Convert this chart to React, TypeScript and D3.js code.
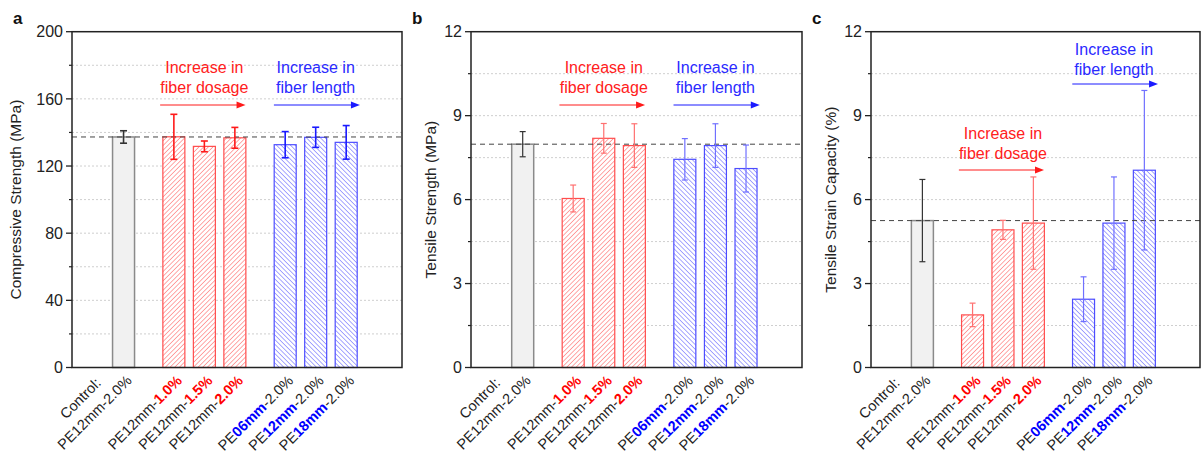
import React from "react";
import * as d3 from "d3";

const W = 1202;
const H = 454;
const TOP = 31.7;
const BOTTOM = 367.5;
const FONT = "'Liberation Sans', Arial, sans-serif";
const XFS = 14.5; // x label font size

// categories: [prefix, highlighted part, suffix, group]
const labelPre = ["PE12mm-2.0%", "PE12mm-", "PE12mm-", "PE12mm-", "PE", "PE", "PE"];
const labelHi = ["", "1.0%", "1.5%", "2.0%", "06mm", "12mm", "18mm"];
const labelPost = ["", "", "", "", "-2.0%", "-2.0%", "-2.0%"];
const groups = ["control", "red", "red", "red", "blue", "blue", "blue"];
const slots = [1, 2.65, 3.65, 4.65, 6.3, 7.3, 8.3];

const compMean = [137.3, 137.4, 131.7, 136.8, 132.7, 137.1, 134.1];
const compErr = [3.7, 13.4, 3.2, 6.2, 7.8, 6.0, 10.0];
const tensMean = [7.98, 6.04, 8.19, 7.93, 7.44, 7.93, 7.11];
const tensErr = [0.45, 0.48, 0.53, 0.78, 0.74, 0.78, 0.84];
const strainMean = [5.25, 1.88, 4.92, 5.16, 2.44, 5.16, 7.05];
const strainErr = [1.47, 0.42, 0.34, 1.65, 0.8, 1.65, 2.85];

const compTicks = [0, 40, 80, 120, 160, 200];
const tensTicks = [0, 3, 6, 9, 12];

const PANELS = [
  {
    letter: "a", left: 72, right: 402, max: 200, ticks: compTicks, minor: 20,
    mean: compMean, err: compErr, title: "Compressive Strength (MPa)", titleOff: 56,
    strongErr: true, redText: [73, 93], redArrow: 105, blueText: [73, 93], blueArrow: 105,
  },
  {
    letter: "b", left: 471, right: 802, max: 12, ticks: tensTicks, minor: 1.5,
    mean: tensMean, err: tensErr, title: "Tensile Strength (MPa)", titleOff: 40,
    strongErr: false, redText: [73, 93], redArrow: 105, blueText: [73, 93], blueArrow: 105,
  },
  {
    letter: "c", left: 871, right: 1200, max: 12, ticks: tensTicks, minor: 1.5,
    mean: strainMean, err: strainErr, title: "Tensile Strain Capacity (%)", titleOff: 40,
    strongErr: false, redText: [139, 159], redArrow: 170, blueText: [55, 75], blueArrow: 84,
  },
];

const measure = (s: string, size: number, weight = "normal") => {
  const ctx = document.createElement("canvas").getContext("2d");
  if (!ctx) return s.length * size * 0.55;
  ctx.font = `${weight} ${size}px ${FONT}`;
  return ctx.measureText(s).width;
};

const Arrow = ({ x1, x2, y, color }: any) => (
  <g>
    <line x1={x1} x2={x2 - 7} y1={y} y2={y} stroke={color} strokeWidth={1} />
    <path d={`M${x2},${y} L${x2 - 9},${y - 3.5} L${x2 - 9},${y + 3.5} Z`} fill={color} />
  </g>
);

const Panel = ({ p }: any) => {
  const x = d3.scaleLinear().domain([-0.69, 10.13]).range([p.left, p.right]);
  const y = d3.scaleLinear().domain([0, p.max]).range([BOTTOM, TOP]);
  const barW = 22;
  const grid = d3.range(p.minor, p.max, p.minor);
  const minorTicks = d3.range(p.minor, p.max, p.minor * 2);
  const ctrl = p.mean[0];
  const w2 = measure(labelPre[0], XFS);

  const col = (g: string) => (g === "red" ? "#ff0000" : g === "blue" ? "#0000ff" : "#333");
  const errCol = (g: string) => {
    if (g === "control") return "#333";
    if (p.strongErr) return g === "red" ? "#ff1a1a" : "#1a1aff";
    return g === "red" ? "#ff7070" : "#7070ff";
  };

  return (
    <g fontFamily={FONT}>
      <text x={p.left - 59} y={24} fontSize={17} fontWeight="bold" fill="#111">{p.letter}</text>
      {grid.map((v) => (
        <line key={v} x1={p.left} x2={p.right} y1={y(v)} y2={y(v)} stroke="#cfcfcf" strokeDasharray="2,2" />
      ))}
      {/* bars */}
      {p.mean.map((m: number, i: number) => {
        const g = groups[i];
        const fill = g === "red" ? "url(#hatchRed)" : g === "blue" ? "url(#hatchBlue)" : "#f1f1f1";
        const stroke = g === "red" ? "#ff4d4d" : g === "blue" ? "#4d4dff" : "#8a8a8a";
        return (
          <rect key={i} x={x(slots[i]) - barW / 2} y={y(m)} width={barW} height={BOTTOM - y(m)}
            fill={fill} stroke={stroke} strokeWidth={g === "control" ? 1.5 : 1.2} />
        );
      })}
      {/* dashed reference */}
      <line x1={p.left} x2={p.right} y1={y(ctrl)} y2={y(ctrl)} stroke="#444" strokeDasharray="5,4" strokeWidth={1} />
      {/* error bars */}
      {p.mean.map((m: number, i: number) => {
        const cx = x(slots[i]);
        const c = errCol(groups[i]);
        const sw = p.strongErr ? 1.6 : 1.2;
        const cap = p.strongErr ? 3.5 : 3;
        const t = y(m + p.err[i]);
        const b = y(m - p.err[i]);
        return (
          <g key={i} stroke={c} strokeWidth={sw}>
            <line x1={cx} x2={cx} y1={t} y2={b} />
            <line x1={cx - cap} x2={cx + cap} y1={t} y2={t} />
            <line x1={cx - cap} x2={cx + cap} y1={b} y2={b} />
          </g>
        );
      })}
      {/* frame */}
      <rect x={p.left} y={TOP} width={p.right - p.left} height={BOTTOM - TOP} fill="none" stroke="#222" strokeWidth={1.5} />
      {/* y ticks */}
      {p.ticks.map((v: number) => (
        <g key={v}>
          <line x1={p.left - 6} x2={p.left} y1={y(v)} y2={y(v)} stroke="#222" strokeWidth={1.3} />
          <text x={p.left - 9} y={y(v)} dy="0.36em" textAnchor="end" fontSize={16} fill="#222">{v}</text>
        </g>
      ))}
      {minorTicks.map((v: number) => (
        <line key={v} x1={p.left - 3} x2={p.left} y1={y(v)} y2={y(v)} stroke="#222" strokeWidth={1.2} />
      ))}
      <text transform={`translate(${p.left - p.titleOff},${(TOP + BOTTOM) / 2}) rotate(-90)`}
        textAnchor="middle" dy="0.35em" fontSize={15.5} fill="#222">{p.title}</text>
      {/* x labels */}
      {slots.map((s, i) => (
        <g key={i} transform={`translate(${x(s) + 9},${BOTTOM + 14}) rotate(-45)`} fontSize={XFS} fill="#222">
          {i === 0 && (
            <text x={-w2 / 2} y={-20} textAnchor="middle">Control:</text>
          )}
          <text textAnchor="end">
            <tspan>{labelPre[i]}</tspan>
            {labelHi[i] && <tspan fontWeight="bold" fill={col(groups[i])}>{labelHi[i]}</tspan>}
            {labelPost[i] && <tspan>{labelPost[i]}</tspan>}
          </text>
        </g>
      ))}
      {/* annotations */}
      <g fontSize={16} textAnchor="middle" fill="#ff2020">
        <text x={x(slots[2])} y={p.redText[0]}>Increase in</text>
        <text x={x(slots[2])} y={p.redText[1]}>fiber dosage</text>
      </g>
      <Arrow x1={x(slots[2] - 1.45)} x2={x(slots[2] + 1.35)} y={p.redArrow} color="#ff1a1a" />
      <g fontSize={16} textAnchor="middle" fill="#2a2aff">
        <text x={x(slots[5])} y={p.blueText[0]}>Increase in</text>
        <text x={x(slots[5])} y={p.blueText[1]}>fiber length</text>
      </g>
      <Arrow x1={x(slots[5] - 1.37)} x2={x(slots[5] + 1.45)} y={p.blueArrow} color="#1a1aff" />
    </g>
  );
};

export default function App() {
  return (
    <svg width={W} height={H} style={{ position: "absolute", left: 0, top: 0, background: "#fff" }}>
      <defs>
        <pattern id="hatchRed" patternUnits="userSpaceOnUse" width={3.3} height={3.3} patternTransform="rotate(45)">
          <rect width={3.3} height={3.3} fill="#fff" />
          <line x1={0} y1={0} x2={0} y2={3.3} stroke="#ff6060" strokeWidth={1.1} />
        </pattern>
        <pattern id="hatchBlue" patternUnits="userSpaceOnUse" width={3.3} height={3.3} patternTransform="rotate(-45)">
          <rect width={3.3} height={3.3} fill="#fff" />
          <line x1={0} y1={0} x2={0} y2={3.3} stroke="#6060ff" strokeWidth={1.1} />
        </pattern>
      </defs>
      <rect width={W} height={H} fill="#fff" />
      {PANELS.map((p) => (
        <Panel key={p.letter} p={p} />
      ))}
    </svg>
  );
}
